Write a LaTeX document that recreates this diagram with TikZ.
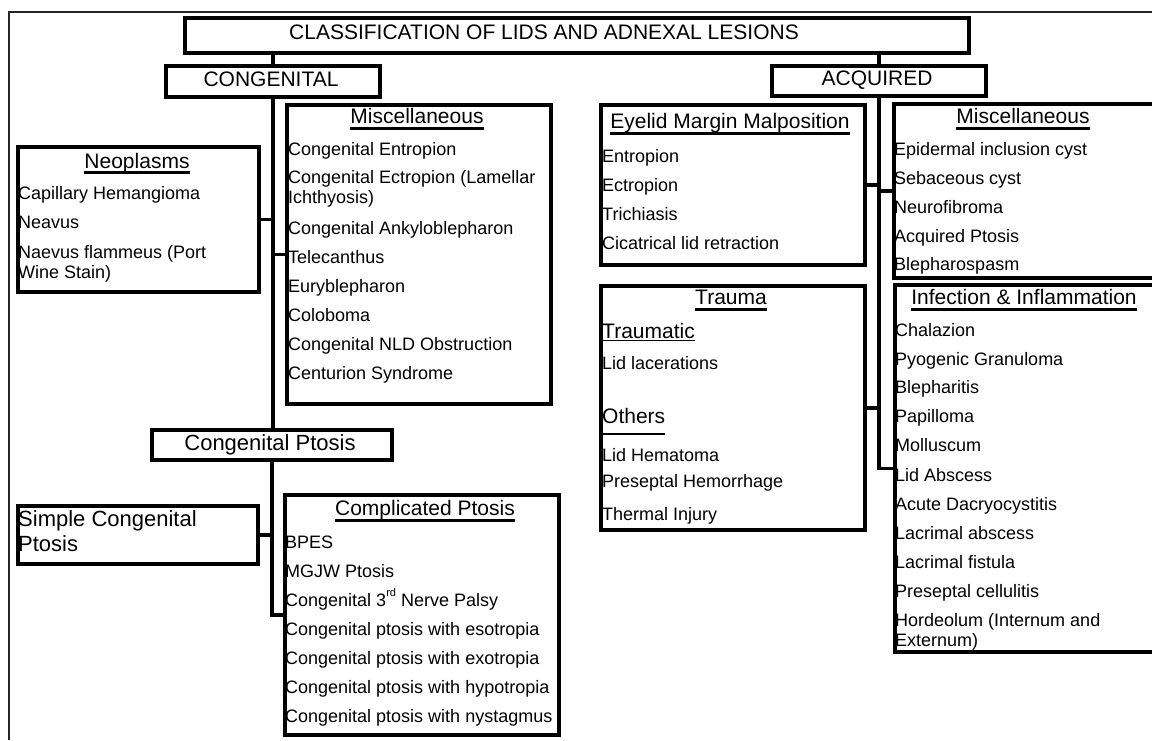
\documentclass[tikz,border=0pt]{standalone}
\usepackage{fontspec}
\setmainfont{Liberation Sans}
\begin{document}
\begin{tikzpicture}[x=1pt,y=-1pt,
  box/.style={draw, line width=3.5pt, inner sep=0pt, anchor=north west},
  conn/.style={line width=3.5pt},
  itm/.style={inner sep=0pt, anchor=base west, font=\fontsize{18}{21}\selectfont},
  hd/.style={inner sep=0pt, anchor=base, font=\fontsize{21}{24}\selectfont},
  hdl/.style={inner sep=0pt, anchor=base west, font=\fontsize{21}{24}\selectfont},
  big/.style={inner sep=0pt, font=\fontsize{22}{25}\selectfont},
  ul/.style={line width=3pt},
  thinul/.style={line width=1.5pt},
  frame/.style={line width=1.2pt, black!85}]
\useasboundingbox (0,0) rectangle (1152,740);
\clip (0,0) rectangle (1152,740);
\fill[white] (0,0) rectangle (1152,740);
% frame
\coordinate (fbl) at (9,740);
\coordinate (ftl) at (9,12);
\coordinate (ftr) at (1152,12);
\draw[frame] (fbl) -- (ftl) -- (ftr);

% boxes
\node[box, minimum width=784pt, minimum height=35pt] (title) at (183,16) {};
\node[box, minimum width=214pt, minimum height=31pt] (cong) at (164,64) {};
\node[box, minimum width=214pt, minimum height=30pt] (acq) at (770,64) {};
\node[box, minimum width=241pt, minimum height=145pt] (neo) at (16,145) {};
\node[box, minimum width=264pt, minimum height=299pt] (miscC) at (285,103) {};
\node[box, minimum width=240pt, minimum height=30pt] (cpt) at (150,428) {};
\node[box, minimum width=240pt, minimum height=58pt] (simple) at (16,504) {};
\node[box, minimum width=274pt, minimum height=240pt] (comp) at (283,493) {};
\node[box, minimum width=264pt, minimum height=160pt] (eyelid) at (599,103) {};
\node[box, minimum width=275pt, minimum height=174pt] (miscR) at (892,102) {};
\node[box, minimum width=264pt, minimum height=244pt] (trauma) at (599,284) {};
\node[box, minimum width=275pt, minimum height=367pt] (inf) at (893,283) {};

% connectors
\draw[conn] (title.south -| cong.north) -- (cong.north);
\draw[conn] (title.south -| acq.north) -- (acq.north);
\draw[conn] (cong.south) -- (cong.south |- cpt.north);
\draw[conn] (neo.east) -- (neo.east -| cong.south);
\draw[conn] (miscC.west) -- (miscC.west -| cong.south);
\draw[conn] (cpt.south) |- (comp.west);
\draw[conn] (simple.east) -- (simple.east -| cpt.south);
\draw[conn] (acq.south) |- (inf.west);
\draw[conn] (eyelid.east) -- (eyelid.east -| acq.south);
\draw[conn] (miscR.west) -- (miscR.west -| acq.south);
\draw[conn] (trauma.east) -- (trauma.east -| acq.south);

% top headings
\node[hd] (tTitle) at (544,39.5) {CLASSIFICATION OF LIDS AND ADNEXAL LESIONS};
\node[hd] (tCong) at (271,86.5) {CONGENITAL};
\node[hd] (tAcq) at (877,85.5) {ACQUIRED};

% Neoplasms
\node[hd] (hNeo) at (137,168) {Neoplasms};
\draw[ul] ([yshift=-4.5pt]hNeo.base west) -- ([yshift=-4.5pt]hNeo.base east);
\node[itm] (n1) at (18,199.5) {Capillary Hemangioma};
\node[itm] (n2) at (18,228.5) {Neavus};
\node[itm] (n3) at (18,258) {Naevus flammeus (Port};
\node[itm] (n4) at (18,278.5) {Wine Stain)};

% Miscellaneous (congenital)
\node[hd] (hMiscC) at (417,123.5) {Miscellaneous};
\draw[ul] ([yshift=-4.5pt]hMiscC.base west) -- ([yshift=-4.5pt]hMiscC.base east);
\node[itm] (m1) at (288,155) {Congenital Entropion};
\node[itm] (m2) at (288,183) {Congenital Ectropion (Lamellar};
\node[itm] (m3) at (288,203.5) {Ichthyosis)};
\node[itm] (m4) at (288,234.5) {Congenital Ankyloblepharon};
\node[itm] (m5) at (288,263) {Telecanthus};
\node[itm] (m6) at (288,292) {Euryblepharon};
\node[itm] (m7) at (288,321.5) {Coloboma};
\node[itm] (m8) at (288,350) {Congenital NLD Obstruction};
\node[itm] (m9) at (288,379) {Centurion Syndrome};

% Congenital Ptosis
\node[big, anchor=base] (tCpt) at (270,450) {Congenital Ptosis};
\node[big, anchor=base west] (s1) at (18,526) {Simple Congenital};
\node[big, anchor=base west] (s2) at (18,551.5) {Ptosis};

% Complicated Ptosis
\node[hd] (hComp) at (425,515) {Complicated Ptosis};
\draw[ul] ([yshift=-5pt]hComp.base west) -- ([yshift=-5pt]hComp.base east);
\node[itm] (c1) at (285,548) {BPES};
\node[itm] (c2) at (285,577) {MGJW Ptosis};
\node[itm] (c3) at (285,606) {Congenital 3\raisebox{0.55em}{\fontsize{11}{11}\selectfont rd} Nerve Palsy};
\node[itm] (c4) at (285,635) {Congenital ptosis with esotropia};
\node[itm] (c5) at (285,664) {Congenital ptosis with exotropia};
\node[itm] (c6) at (285,693) {Congenital ptosis with hypotropia};
\node[itm] (c7) at (285,722) {Congenital ptosis with nystagmus};

% Eyelid Margin Malposition
\node[hd] (hEye) at (730,128) {Eyelid Margin Malposition};
\draw[ul] ([yshift=-5pt]hEye.base west) -- ([yshift=-5pt]hEye.base east);
\node[itm] (e1) at (602,162) {Entropion};
\node[itm] (e2) at (602,191.5) {Ectropion};
\node[itm] (e3) at (602,220.5) {Trichiasis};
\node[itm] (e4) at (602,249.5) {Cicatrical lid retraction};

% Miscellaneous (acquired)
\node[hd] (hMiscR) at (1023,123.5) {Miscellaneous};
\draw[ul] ([yshift=-5pt]hMiscR.base west) -- ([yshift=-5pt]hMiscR.base east);
\node[itm] (r1) at (894,155.5) {Epidermal inclusion cyst};
\node[itm] (r2) at (894,184) {Sebaceous cyst};
\node[itm] (r3) at (894,213) {Neurofibroma};
\node[itm] (r4) at (894,242) {Acquired Ptosis};
\node[itm] (r5) at (894,270.5) {Blepharospasm};

% Trauma
\node[hd] (hTr) at (731,304) {Trauma};
\draw[ul] ([yshift=-5pt]hTr.base west) -- ([yshift=-5pt]hTr.base east);
\node[hdl] (hTrm) at (602,338.5) {Traumatic};
\draw[thinul] ([yshift=-2pt]hTrm.base west) -- ([yshift=-2pt]hTrm.base east);
\node[itm] (t1) at (602,369) {Lid lacerations};
\node[hdl] (hOth) at (602,423) {Others};
\draw[thinul] ([yshift=-11pt]hOth.base west) -- ([yshift=-11pt]hOth.base east);
\node[itm] (t2) at (602,461) {Lid Hematoma};
\node[itm] (t3) at (602,487) {Preseptal Hemorrhage};
\node[itm] (t4) at (602,520) {Thermal Injury};

% Infection & Inflammation
\node[hd] (hInf) at (1024,304) {Infection \& Inflammation};
\draw[ul] ([yshift=-5pt]hInf.base west) -- ([yshift=-5pt]hInf.base east);
\node[itm] (i1) at (895,336) {Chalazion};
\node[itm] (i2) at (895,365) {Pyogenic Granuloma};
\node[itm] (i3) at (895,393.5) {Blepharitis};
\node[itm] (i4) at (895,422) {Papilloma};
\node[itm] (i5) at (895,451.5) {Molluscum};
\node[itm] (i6) at (895,481) {Lid Abscess};
\node[itm] (i7) at (895,510) {Acute Dacryocystitis};
\node[itm] (i8) at (895,539) {Lacrimal abscess};
\node[itm] (i9) at (895,568) {Lacrimal fistula};
\node[itm] (i10) at (895,597) {Preseptal cellulitis};
\node[itm] (i11) at (895,626) {Hordeolum (Internum and};
\node[itm] (i12) at (895,646.5) {Externum)};
\end{tikzpicture}
\end{document}
